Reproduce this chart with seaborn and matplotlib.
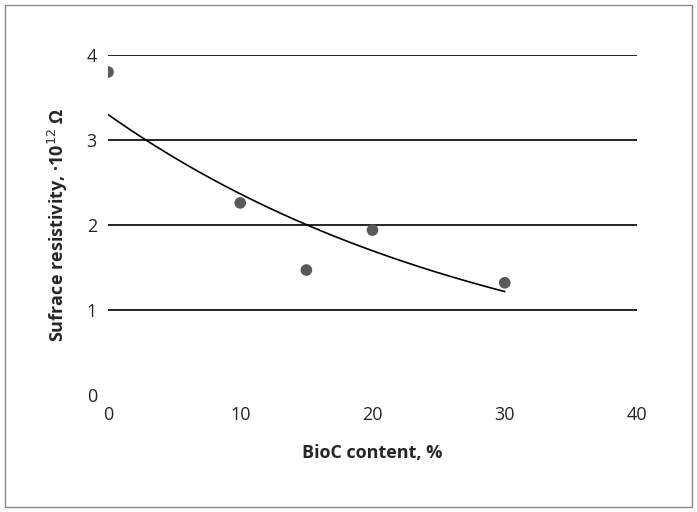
import numpy as np
import matplotlib
matplotlib.use("Agg")
import matplotlib.pyplot as plt
import seaborn as sns
from matplotlib.patches import Rectangle

bioc = [0, 10, 15, 20, 30]
resist = [3.80, 2.26, 1.47, 1.94, 1.32]
xticks = [0, 10, 20, 30, 40]
yticks = [0, 1, 2, 3, 4]

sns.set_style("white")
plt.rcParams['font.family'] = ['Open Sans', 'DejaVu Sans']

fig = plt.figure(figsize=(6.97, 5.12), dpi=100)
ax = fig.add_axes([108/697, 1-395/512, (637-108)/697, (395-55)/512])
ax.set_xlim(0, 40)
ax.set_ylim(0, 4)
for y in yticks[1:]:
    ax.axhline(y, color='black', lw=1.2, zorder=1)
sns.scatterplot(x=bioc, y=resist, ax=ax, color='#595959', s=70, edgecolor='none', zorder=3)
b, ln_a = np.polyfit(bioc, np.log(resist), 1)
xs = np.linspace(0, 30, 100)
ax.plot(xs, np.exp(ln_a + b*xs), color='black', lw=1.2, zorder=2)
ax.set_xticks(xticks)
ax.set_yticks(yticks)
ax.tick_params(labelsize=13, length=0, pad=8)
for s in ax.spines.values():
    s.set_visible(False)
ax.set_xlabel('BioC content, %', fontsize=13, fontweight='bold', labelpad=14)
ax.set_ylabel('Sufrace resistivity, ·10$^{12}$ Ω', fontsize=13, fontweight='bold', labelpad=12)
fig.patches.append(Rectangle((5/697, 5/512), 687/697, 502/512, transform=fig.transFigure,
                             fill=False, edgecolor='#888888', lw=1))
fig.savefig('out.png', dpi=100)
